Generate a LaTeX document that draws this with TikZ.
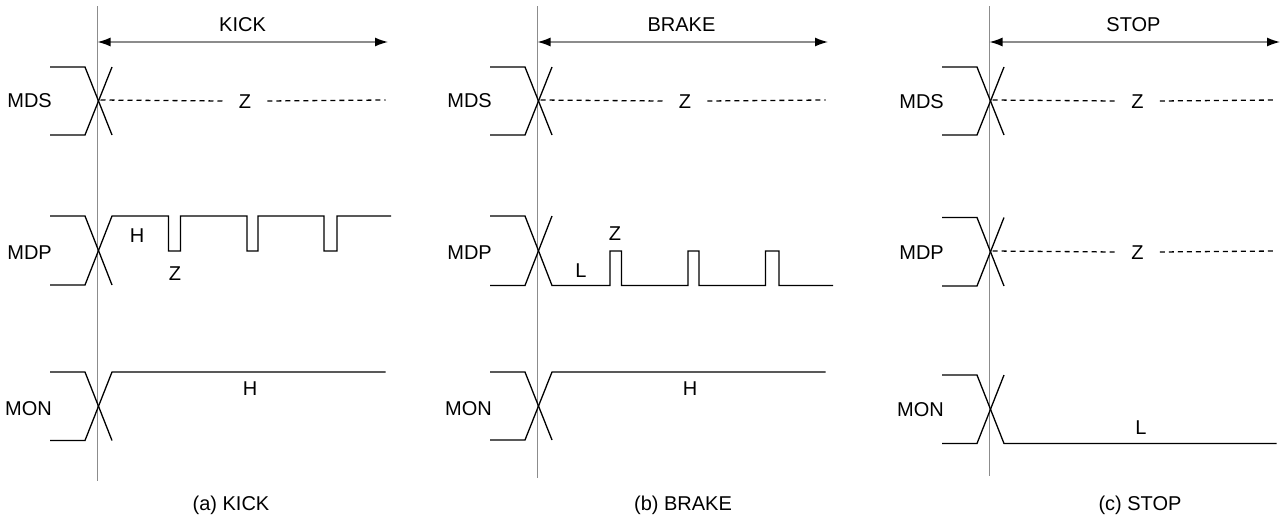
\documentclass[tikz,border=0pt]{standalone}
\usepackage{fontspec}
\setmainfont{Liberation Sans}
\usetikzlibrary{arrows.meta}
\tikzset{
  sig/.style={draw=black, line width=1.3pt, line join=miter},
  vl/.style={draw=black!45, line width=1.1pt},
  dimarrow/.style={draw=black!45, line width=1.4pt, {Latex[length=13pt,width=9pt,black]}-{Latex[length=13pt,width=9pt,black]}},
  dsh/.style={draw=black, line width=1.3pt, dash pattern=on 5pt off 4pt},
  lbl/.style={font=\fontsize{20}{24}\selectfont, text height=14.3pt, text depth=0pt, inner sep=0pt},
  zlbl/.style={lbl, inner xsep=16pt},
  sname/.style={lbl, anchor=east}
}
\begin{document}
\begin{tikzpicture}[x=1pt,y=-1pt]
\useasboundingbox (0,0) rectangle (1286,520);
% ================= (a) KICK =================
\begin{scope}[shift={(97.5,0)}]
  \coordinate (a-top) at (0,6);
  \coordinate (a-bot) at (0,481);
  \draw[vl] (a-top) -- (a-bot);
  \coordinate (a-ar0) at (0,42);
  \coordinate (a-ar1) at (290.5,42);
  \draw[dimarrow] (a-ar0) -- (a-ar1);
  \node[lbl] (a-title) at (145,24) {KICK};
  % MDS
  \node[sname] (a-mds) at (-45.5,100) {MDS};
  \draw[sig] (-47.5,67) -- (-12.5,67) -- (14.5,135);
  \draw[sig] (-47.5,135) -- (-12.5,135) -- (14.5,67);
  \coordinate (a-mdsx) at (3,100);
  \coordinate (a-mdse) at (288,100);
  \node[zlbl] (a-mdsz) at (147.5,101) {Z};
  \draw[dsh] (a-mdsx) -- (a-mdsz.west);
  \draw[dsh] (a-mdsz.east) -- (a-mdse);
  % MDP
  \node[sname] (a-mdp) at (-45.5,252) {MDP};
  \draw[sig] (-47.5,216) -- (-12.5,216) -- (14.5,285);
  \draw[sig] (-47.5,285) -- (-12.5,285) -- (14.5,216) -- (71,216) -- (71,251) -- (83,251) -- (83,216)
        -- (149.5,216) -- (149.5,251) -- (160.5,251) -- (160.5,216)
        -- (226.5,216) -- (226.5,251) -- (239.5,251) -- (239.5,216) -- (293.5,216);
  \node[lbl] (a-mdph) at (39.5,235) {H};
  \node[lbl] (a-mdpz) at (77.5,273) {Z};
  % MON
  \node[sname] (a-mon) at (-45.5,408) {MON};
  \draw[sig] (-47.5,372) -- (-12.5,372) -- (14.5,440.5);
  \draw[sig] (-47.5,440.5) -- (-12.5,440.5) -- (14.5,372) -- (288,372);
  \node[lbl] (a-monh) at (152.5,388) {H};
  \node[lbl] (a-cap) at (133.5,503) {(a) KICK};
\end{scope}
% ================= (b) BRAKE =================
\begin{scope}[shift={(537.5,0)}]
  \coordinate (b-top) at (0,6);
  \coordinate (b-bot) at (0,478);
  \draw[vl] (b-top) -- (b-bot);
  \coordinate (b-ar0) at (0,42);
  \coordinate (b-ar1) at (290.5,42);
  \draw[dimarrow] (b-ar0) -- (b-ar1);
  \node[lbl] (b-title) at (144,24) {BRAKE};
  % MDS
  \node[sname] (b-mds) at (-45.5,100) {MDS};
  \draw[sig] (-47.5,67) -- (-12.5,67) -- (14.5,135);
  \draw[sig] (-47.5,135) -- (-12.5,135) -- (14.5,67);
  \coordinate (b-mdsx) at (3,100);
  \coordinate (b-mdse) at (288,100);
  \node[zlbl] (b-mdsz) at (147.5,101) {Z};
  \draw[dsh] (b-mdsx) -- (b-mdsz.west);
  \draw[dsh] (b-mdsz.east) -- (b-mdse);
  % MDP
  \node[sname] (b-mdp) at (-45.5,252) {MDP};
  \draw[sig] (-47.5,285.5) -- (-12.5,285.5) -- (14.5,216);
  \draw[sig] (-47.5,216) -- (-12.5,216) -- (14.5,285.5) -- (72.5,285.5) -- (72.5,251) -- (84,251) -- (84,285.5)
        -- (150.5,285.5) -- (150.5,251) -- (161.5,251) -- (161.5,285.5)
        -- (228,285.5) -- (228,251) -- (241.5,251) -- (241.5,285.5) -- (295.5,285.5);
  \node[lbl] (b-mdpz) at (77.5,233) {Z};
  \node[lbl] (b-mdpl) at (43.5,270) {L};
  % MON
  \node[sname] (b-mon) at (-45.5,408) {MON};
  \draw[sig] (-47.5,372) -- (-12.5,372) -- (14.5,440);
  \draw[sig] (-47.5,440) -- (-12.5,440) -- (14.5,372) -- (288,372);
  \node[lbl] (b-monh) at (152.5,388) {H};
  \node[lbl] (b-cap) at (145.5,503) {(b) BRAKE};
\end{scope}
% ================= (c) STOP =================
\begin{scope}[shift={(989.5,0)}]
  \coordinate (c-top) at (0,6);
  \coordinate (c-bot) at (0,476);
  \draw[vl] (c-top) -- (c-bot);
  \coordinate (c-ar0) at (0,42);
  \coordinate (c-ar1) at (290.5,42);
  \draw[dimarrow] (c-ar0) -- (c-ar1);
  \node[lbl] (c-title) at (144,24) {STOP};
  % MDS
  \node[sname] (c-mds) at (-45.5,101) {MDS};
  \draw[sig] (-47.5,67) -- (-12.5,67) -- (14.5,135);
  \draw[sig] (-47.5,135) -- (-12.5,135) -- (14.5,67);
  \coordinate (c-mdsx) at (3,100);
  \coordinate (c-mdse) at (287,100);
  \node[zlbl] (c-mdsz) at (148,101) {Z};
  \draw[dsh] (c-mdsx) -- (c-mdsz.west);
  \draw[dsh] (c-mdsz.east) -- (c-mdse);
  % MDP
  \node[sname] (c-mdp) at (-45.5,252) {MDP};
  \draw[sig] (-47.5,217.5) -- (-12.5,217.5) -- (14.5,286);
  \draw[sig] (-47.5,286) -- (-12.5,286) -- (14.5,217.5);
  \coordinate (c-mdpx) at (3,251);
  \coordinate (c-mdpe) at (287,251);
  \node[zlbl] (c-mdpz) at (148,252) {Z};
  \draw[dsh] (c-mdpx) -- (c-mdpz.west);
  \draw[dsh] (c-mdpz.east) -- (c-mdpe);
  % MON
  \node[sname] (c-mon) at (-45.5,409) {MON};
  \draw[sig] (-47.5,375) -- (-12.5,375) -- (14.5,443.5) -- (287,443.5);
  \draw[sig] (-47.5,443.5) -- (-12.5,443.5) -- (14.5,375);
  \node[lbl] (c-monl) at (151.5,427) {L};
  \node[lbl] (c-cap) at (150.5,503) {(c) STOP};
\end{scope}
\end{tikzpicture}
\end{document}
